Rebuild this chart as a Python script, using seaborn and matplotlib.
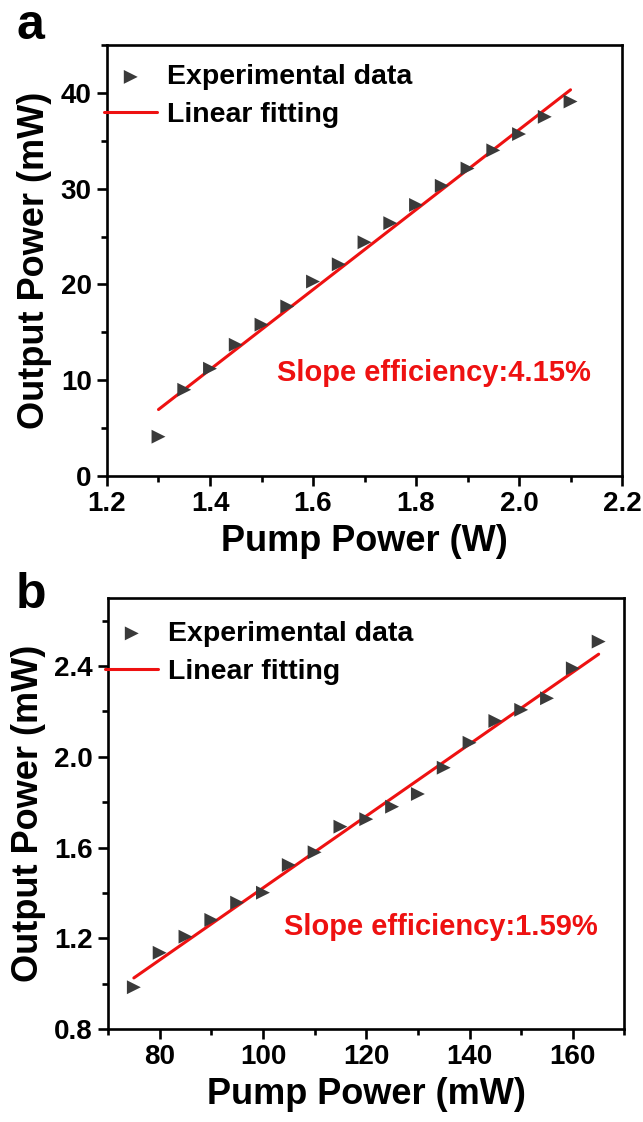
import numpy as np
import pandas as pd
import matplotlib
matplotlib.use('Agg')
import matplotlib.pyplot as plt
import seaborn as sns
from matplotlib.ticker import MultipleLocator, FormatStrFormatter

# Datos
pump_a = [1.30, 1.35, 1.40, 1.45, 1.50, 1.55, 1.60, 1.65, 1.70, 1.75, 1.80,
          1.85, 1.90, 1.95, 2.00, 2.05, 2.10]
out_a = [4.1, 9.0, 11.2, 13.7, 15.8, 17.7, 20.3, 22.1, 24.4, 26.4, 28.3,
         30.3, 32.1, 34.0, 35.7, 37.5, 39.1]

pump_b = [75, 80, 85, 90, 95, 100, 105, 110, 115, 120, 125, 130, 135, 140,
          145, 150, 155, 160, 165]
out_b = [0.984, 1.136, 1.207, 1.281, 1.357, 1.401, 1.523, 1.579, 1.692, 1.725,
         1.780, 1.836, 1.952, 2.062, 2.158, 2.207, 2.258, 2.390, 2.508]

slope_a = 'Slope efficiency:4.15%'
slope_b = 'Slope efficiency:1.59%'

sns.set_theme(style='ticks')
plt.rcParams['font.family'] = ['Liberation Sans', 'DejaVu Sans']
plt.rcParams['font.weight'] = 'bold'
plt.rcParams['axes.labelweight'] = 'bold'
plt.rcParams['text.color'] = 'black'
plt.rcParams['axes.labelcolor'] = 'black'
plt.rcParams['xtick.color'] = 'black'
plt.rcParams['ytick.color'] = 'black'
plt.rcParams['xtick.labelcolor'] = 'black'
plt.rcParams['ytick.labelcolor'] = 'black'

RED = '#ee1111'

fig = plt.figure(figsize=(6.43, 11.22), dpi=100)
ax_a = fig.add_axes([0.1664, 0.5758, 0.8010, 0.3841])
ax_b = fig.add_axes([0.1680, 0.0829, 0.8032, 0.3841])


def panel(ax, x, y, xlabel, text, text_xy, legend_y):
    df = pd.DataFrame({'x': x, 'y': y})
    k, b = np.polyfit(df['x'], df['y'], 1)
    fit = pd.DataFrame({'x': [df['x'].min(), df['x'].max()]})
    fit['y'] = k * fit['x'] + b
    sns.scatterplot(data=df, x='x', y='y', ax=ax, marker='>', s=100,
                    color='#3a3a3a', edgecolor='none', label='Experimental data',
                    zorder=3)
    sns.lineplot(data=fit, x='x', y='y', ax=ax, color=RED, lw=2.2,
                 label='Linear fitting', zorder=2)
    ax.set_xlabel(xlabel, fontsize=26, fontweight='bold', labelpad=5)
    ax.set_ylabel('Output Power (mW)', fontsize=26, fontweight='bold', labelpad=6)
    for s in ax.spines.values():
        s.set_linewidth(1.9)
        s.set_color('black')
    ax.tick_params(which='major', direction='out', length=7, width=1.9,
                   labelsize=20, pad=4)
    ax.tick_params(which='minor', direction='out', length=4.5, width=1.9)
    for lab in ax.get_xticklabels() + ax.get_yticklabels():
        lab.set_fontweight('bold')
    ax.text(text_xy[0], text_xy[1], text, color=RED, fontsize=21,
            fontweight='bold', ha='left', va='center')
    leg = ax.legend(loc='upper left', bbox_to_anchor=(-0.005, legend_y),
                    frameon=False, fontsize=20.5, handlelength=1.85,
                    handletextpad=0.35, borderaxespad=0, labelspacing=0.42,
                    borderpad=0)
    for t in leg.get_texts():
        t.set_fontweight('bold')
        t.set_color('black')


panel(ax_a, pump_a, out_a, 'Pump Power (W)', slope_a, (1.53, 10.8), 0.955)
ax_a.set_xlim(1.2, 2.2)
ax_a.set_ylim(0, 45)
ax_a.xaxis.set_major_locator(MultipleLocator(0.2))
ax_a.xaxis.set_minor_locator(MultipleLocator(0.1))
ax_a.yaxis.set_major_locator(MultipleLocator(10))
ax_a.yaxis.set_minor_locator(MultipleLocator(5))
ax_a.xaxis.set_major_formatter(FormatStrFormatter('%.1f'))

panel(ax_b, pump_b, out_b, 'Pump Power (mW)', slope_b, (104.0, 1.25), 0.947)
ax_b.set_xlim(70, 170)
ax_b.set_ylim(0.8, 2.7)
ax_b.xaxis.set_major_locator(MultipleLocator(20))
ax_b.xaxis.set_minor_locator(MultipleLocator(10))
ax_b.yaxis.set_major_locator(MultipleLocator(0.4))
ax_b.yaxis.set_minor_locator(MultipleLocator(0.2))
ax_b.yaxis.set_major_formatter(FormatStrFormatter('%.1f'))

fig.text(0.025, 0.997, 'a', fontsize=36, fontweight='bold', va='top', ha='left')
fig.text(0.025, 0.490, 'b', fontsize=36, fontweight='bold', va='top', ha='left')

plt.savefig('out.png', dpi=100)
